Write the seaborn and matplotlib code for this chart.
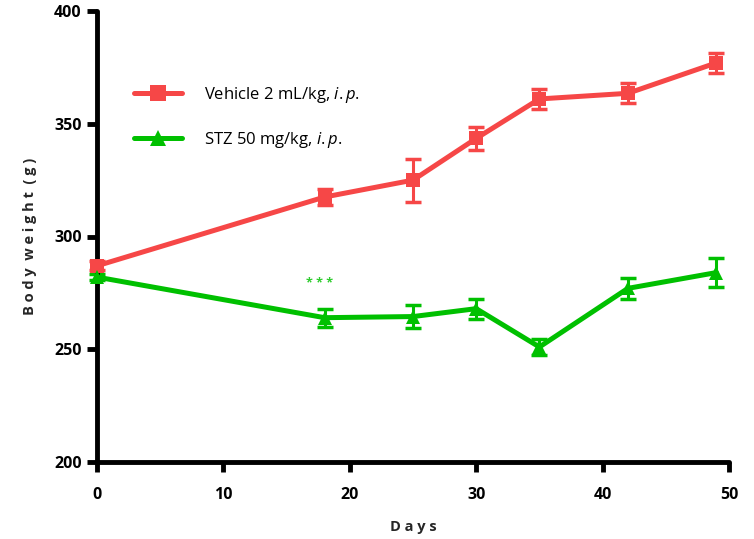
import numpy as np
import pandas as pd
import seaborn as sns
import matplotlib.pyplot as plt

# values (mean +/- error)
days = [0, 18, 25, 30, 35, 42, 49]
vehicle_mean = [287, 317.5, 325, 343.5, 361, 363.5, 377]
vehicle_err = [2, 3.5, 9.5, 5, 4.5, 4.5, 4.5]
stz_mean = [282, 264, 264.5, 268, 251, 277, 284]
stz_err = [1.5, 4, 5, 4.5, 3.5, 4.5, 6.5]
labels = ["Vehicle 2 mL/kg, $\\mathit{i.p.}$", "STZ 50 mg/kg, $\\mathit{i.p.}$"]

red = "#F64747"
green = "#00C000"

sns.set_style("ticks")
plt.rcParams["font.family"] = ["Open Sans", "DejaVu Sans"]
plt.rcParams["mathtext.fontset"] = "custom"
plt.rcParams["mathtext.it"] = "Open Sans:italic"
plt.rcParams["mathtext.rm"] = "Open Sans"
plt.rcParams["text.color"] = "black"

df = pd.DataFrame({
    "Days": days * 2,
    "weight": vehicle_mean + stz_mean,
    "group": [labels[0]] * len(days) + [labels[1]] * len(days),
})

fig = plt.figure(figsize=(7.54, 5.39), dpi=100)
ax = fig.add_axes([97 / 754, 1 - 462 / 539, (729 - 97) / 754, (462 - 11) / 539])

ax.errorbar(days, vehicle_mean, yerr=vehicle_err, fmt="none", ecolor=red,
            elinewidth=2.2, capsize=6, capthick=2.5, zorder=2, clip_on=False)
ax.errorbar(days, stz_mean, yerr=stz_err, fmt="none", ecolor=green,
            elinewidth=2.2, capsize=6, capthick=2.5, zorder=2, clip_on=False)

sns.lineplot(data=df, x="Days", y="weight", hue="group", style="group",
             palette=[red, green], markers=["s", "^"], dashes=False,
             linewidth=3.6, markersize=10, markeredgewidth=0, ax=ax,
             clip_on=False, zorder=3)

ax.text(17.6, 279, "* * *", color="#2ECC2E", fontsize=9, ha="center",
        va="center", fontweight="bold")

ax.set_xlim(0, 50)
ax.set_ylim(200, 400)
ax.set_xticks([0, 10, 20, 30, 40, 50])
ax.set_yticks([200, 250, 300, 350, 400])
sns.despine(ax=ax)
for s in ["left", "bottom"]:
    ax.spines[s].set_linewidth(3.5)
    ax.spines[s].set_color("black")
    ax.spines[s].set_capstyle("round")
ax.tick_params(axis="both", width=3.5, length=7, direction="out",
               labelsize=11.5, color="black", labelcolor="black")
ax.tick_params(axis="x", pad=11)
ax.tick_params(axis="y", pad=4)
for t in ax.get_xticklabels() + ax.get_yticklabels():
    t.set_fontweight("bold")

ax.set_xlabel("D a y s", fontsize=10.5, fontweight="bold", labelpad=12)
ax.set_ylabel("B o d y  w e i g h t  ( g )", fontsize=10.5, fontweight="bold",
              labelpad=12)

leg = ax.legend(loc="upper left", bbox_to_anchor=(0.035, 0.87), frameon=False,
                fontsize=12, handlelength=2.9, labelspacing=1.5,
                handletextpad=1.3, markerscale=1.1)
for h in leg.legend_handles:
    h.set_linewidth(3.6)

fig.savefig("out.png", dpi=100)
